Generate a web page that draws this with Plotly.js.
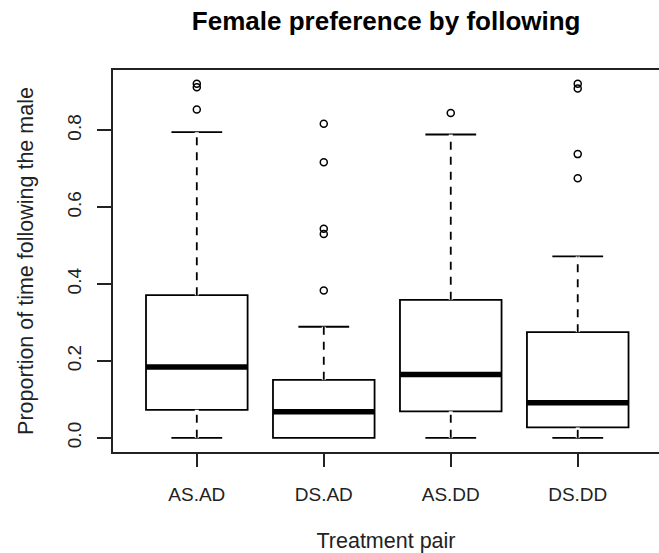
<!DOCTYPE html>
<html>
<head>
<meta charset="utf-8">
<script src="https://cdn.plot.ly/plotly-3.0.1.min.js"></script>
<style>html,body{margin:0;padding:0;overflow:hidden;background:#fff;}</style>
</head>
<body>
<div id="chart" style="width:659px;height:553px;"></div>
<script>
// ---- data ----
const categories = ["AS.AD", "DS.AD", "AS.DD", "DS.DD"];
const positions = [1, 2, 3, 4];
const lowerFence = [0.000, 0.000, 0.000, 0.000];
const q1 = [0.073, 0.000, 0.069, 0.027];
const medians = [0.184, 0.068, 0.165, 0.091];
const q3 = [0.371, 0.151, 0.359, 0.275];
const upperFence = [0.795, 0.289, 0.789, 0.472];
const outliers = [
  [0.854, 0.912, 0.921],
  [0.383, 0.530, 0.544, 0.717, 0.817],
  [0.845],
  [0.675, 0.738, 0.909, 0.921]
];
const yTicks = [0.0, 0.2, 0.4, 0.6, 0.8];
const yTickText = ["0.0", "0.2", "0.4", "0.6", "0.8"];

// ---- styling ----
const FONT = "Liberation Sans, Arial, sans-serif";
const BOXW = 0.8;
const traces = [];

traces.push({
  type: "box",
  x: positions,
  q1: q1, median: medians, q3: q3,
  lowerfence: lowerFence, upperfence: upperFence,
  width: BOXW,
  whiskerwidth: 0.5,
  fillcolor: "rgba(255,255,255,0)",
  line: {color: "#000", width: 1.8},
  boxpoints: false,
  showlegend: false,
  hoverinfo: "skip"
});

// whiskers: erase solid Plotly whisker, redraw dashed
const wx = [], wy = [];
positions.forEach((p, i) => {
  wx.push(p, p, null, p, p, null);
  wy.push(q3[i], upperFence[i], null, lowerFence[i], q1[i], null);
});
traces.push({type: "scatter", mode: "lines", x: wx, y: wy,
  line: {color: "#fff", width: 4}, showlegend: false, hoverinfo: "skip"});
traces.push({type: "scatter", mode: "lines", x: wx, y: wy,
  line: {color: "#000", width: 1.8, dash: "8px,7px"}, showlegend: false, hoverinfo: "skip"});

// thick medians
const mx = [], my = [];
positions.forEach((p, i) => {
  mx.push(p - BOXW / 2, p + BOXW / 2, null);
  my.push(medians[i], medians[i], null);
});
traces.push({type: "scatter", mode: "lines", x: mx, y: my,
  line: {color: "#000", width: 5.5}, showlegend: false, hoverinfo: "skip"});

// outliers
const ox = [], oy = [];
outliers.forEach((arr, i) => arr.forEach(v => { ox.push(positions[i]); oy.push(v); }));
traces.push({type: "scatter", mode: "markers", x: ox, y: oy,
  marker: {symbol: "circle-open", size: 7, color: "#000", line: {width: 1.5, color: "#000"}},
  showlegend: false, hoverinfo: "skip"});

const layout = {
  width: 659, height: 553,
  margin: {l: 113, r: 0, t: 70, b: 101},
  paper_bgcolor: "#fff", plot_bgcolor: "#fff",
  font: {family: FONT, color: "#000", size: 19},
  title: {text: "<b>Female preference by following</b>",
    font: {family: FONT, size: 26, color: "#000"},
    x: 0.586, xanchor: "center", y: 0.963, yanchor: "middle", yref: "container"},
  xaxis: {
    range: [0.34, 4.64], type: "linear",
    tickvals: positions, ticktext: categories,
    showgrid: false, zeroline: false,
    showline: true, mirror: true, linecolor: "#222", linewidth: 2,
    ticks: "outside", ticklen: 13, tickwidth: 2, tickcolor: "#222",
    ticklabelstandoff: 11,
    tickfont: {family: FONT, size: 19, color: "#222"},
    title: {text: "Treatment pair", font: {family: FONT, size: 21.5, color: "#222"}, standoff: 29}
  },
  yaxis: {
    range: [-0.0368, 0.9568],
    tickvals: yTicks, ticktext: yTickText, tickangle: -90,
    showgrid: false, zeroline: false,
    showline: true, mirror: false, linecolor: "#222", linewidth: 2,
    ticks: "outside", ticklen: 14, tickwidth: 2, tickcolor: "#222",
    ticklabelstandoff: 8,
    tickfont: {family: FONT, size: 19, color: "#222"},
    title: {text: "Proportion of time following the male", font: {family: FONT, size: 21.5, color: "#222"}, standoff: 25}
  }
};

Plotly.newPlot("chart", traces, layout, {displayModeBar: false, staticPlot: true});
</script>
</body>
</html>
